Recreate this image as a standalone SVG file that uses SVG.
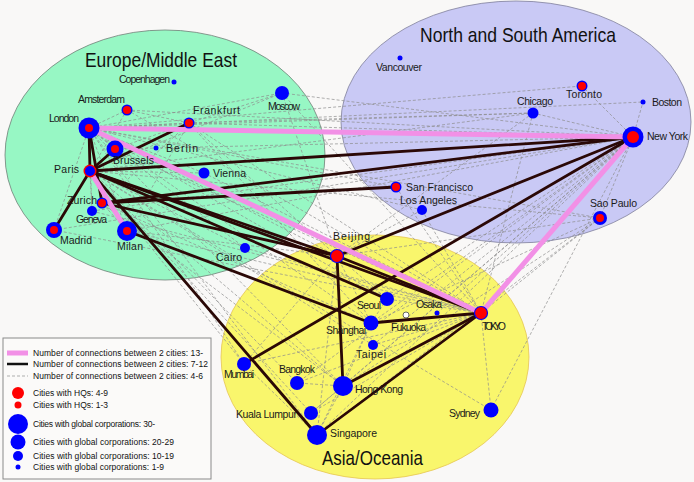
<svg xmlns="http://www.w3.org/2000/svg" width="694" height="482" viewBox="0 0 694 482">
<defs>
<style>
.bg{fill:#f9f8f7}
.dash{stroke:#8c8c8c;stroke-width:0.7;stroke-dasharray:3 2;fill:none}
.thick{stroke:#2a0806;stroke-width:2.8;fill:none;stroke-linecap:round}
.pink{stroke:#f290e6;stroke-width:5;fill:none;stroke-linecap:butt}
.b{fill:#0000ff}
.r{fill:#ff0000}
.lbl{font-family:"Liberation Sans",Arial,sans-serif;font-size:10.5px;fill:#1a1a1a}
.title{font-family:"Liberation Sans",Arial,sans-serif;font-size:21px;fill:#111;text-anchor:middle}
.leg{font-family:"Liberation Sans",Arial,sans-serif;font-size:8.5px;fill:#111}
</style>
</defs>
<rect class="bg" x="0" y="0" width="694" height="482"/>
<g id="regions">
<ellipse id="region-europe" cx="165" cy="155" rx="160" ry="125" fill="#97f7c4" stroke="#6e7f76" stroke-width="0.8"/>
<ellipse id="region-america" cx="516" cy="122" rx="175" ry="121" fill="#c9c9f5" stroke="#7f7f9a" stroke-width="0.8"/>
<ellipse id="region-asia" cx="375" cy="357" rx="154" ry="122" fill="#f9f66c" stroke="#e6c550" stroke-width="0.8"/>
<text class="title" x="161" y="67" textLength="152" lengthAdjust="spacingAndGlyphs">Europe/Middle East</text>
<text class="title" x="518" y="42" textLength="196" lengthAdjust="spacingAndGlyphs">North and South America</text>
<text class="title" x="372.5" y="465" textLength="101" lengthAdjust="spacingAndGlyphs">Asia/Oceania</text>
</g>
<g id="connectors">
<g id="dashed">
<line class="dash" x1="89" y1="128" x2="127" y2="110"/>
<line class="dash" x1="89" y1="128" x2="189" y2="123"/>
<line class="dash" x1="89" y1="128" x2="115" y2="149"/>
<line class="dash" x1="89" y1="128" x2="282" y2="93"/>
<line class="dash" x1="89" y1="128" x2="204" y2="173"/>
<line class="dash" x1="89" y1="128" x2="127" y2="231"/>
<line class="dash" x1="89" y1="128" x2="54" y2="230"/>
<line class="dash" x1="89" y1="128" x2="92" y2="211"/>
<line class="dash" x1="89" y1="128" x2="245" y2="248"/>
<line class="dash" x1="127" y1="110" x2="189" y2="123"/>
<line class="dash" x1="127" y1="110" x2="90" y2="171"/>
<line class="dash" x1="189" y1="123" x2="115" y2="149"/>
<line class="dash" x1="189" y1="123" x2="282" y2="93"/>
<line class="dash" x1="90" y1="171" x2="282" y2="93"/>
<line class="dash" x1="90" y1="171" x2="204" y2="173"/>
<line class="dash" x1="90" y1="171" x2="92" y2="211"/>
<line class="dash" x1="90" y1="171" x2="245" y2="248"/>
<line class="dash" x1="127" y1="231" x2="189" y2="123"/>
<line class="dash" x1="102" y1="203" x2="189" y2="123"/>
<line class="dash" x1="127" y1="231" x2="102" y2="203"/>
<line class="dash" x1="89" y1="128" x2="533" y2="113"/>
<line class="dash" x1="89" y1="128" x2="643" y2="102"/>
<line class="dash" x1="89" y1="128" x2="582" y2="86"/>
<line class="dash" x1="89" y1="128" x2="396" y2="187"/>
<line class="dash" x1="89" y1="128" x2="422" y2="210"/>
<line class="dash" x1="89" y1="128" x2="600" y2="218"/>
<line class="dash" x1="90" y1="171" x2="533" y2="113"/>
<line class="dash" x1="90" y1="171" x2="600" y2="218"/>
<line class="dash" x1="189" y1="123" x2="633" y2="137"/>
<line class="dash" x1="127" y1="110" x2="633" y2="137"/>
<line class="dash" x1="115" y1="149" x2="633" y2="137"/>
<line class="dash" x1="127" y1="231" x2="633" y2="137"/>
<line class="dash" x1="282" y1="93" x2="633" y2="137"/>
<line class="dash" x1="54" y1="230" x2="633" y2="137"/>
<line class="dash" x1="92" y1="211" x2="633" y2="137"/>
<line class="dash" x1="189" y1="123" x2="533" y2="113"/>
<line class="dash" x1="89" y1="128" x2="387" y2="299"/>
<line class="dash" x1="89" y1="128" x2="371" y2="323"/>
<line class="dash" x1="89" y1="128" x2="343" y2="386"/>
<line class="dash" x1="89" y1="128" x2="317" y2="435"/>
<line class="dash" x1="89" y1="128" x2="244" y2="364"/>
<line class="dash" x1="89" y1="128" x2="337" y2="256"/>
<line class="dash" x1="189" y1="123" x2="481" y2="313"/>
<line class="dash" x1="189" y1="123" x2="337" y2="256"/>
<line class="dash" x1="189" y1="123" x2="371" y2="323"/>
<line class="dash" x1="115" y1="149" x2="481" y2="313"/>
<line class="dash" x1="127" y1="110" x2="481" y2="313"/>
<line class="dash" x1="282" y1="93" x2="481" y2="313"/>
<line class="dash" x1="282" y1="93" x2="337" y2="256"/>
<line class="dash" x1="204" y1="173" x2="481" y2="313"/>
<line class="dash" x1="90" y1="171" x2="491" y2="410"/>
<line class="dash" x1="90" y1="171" x2="343" y2="386"/>
<line class="dash" x1="90" y1="171" x2="244" y2="364"/>
<line class="dash" x1="127" y1="231" x2="481" y2="313"/>
<line class="dash" x1="92" y1="211" x2="481" y2="313"/>
<line class="dash" x1="54" y1="230" x2="481" y2="313"/>
<line class="dash" x1="102" y1="203" x2="371" y2="323"/>
<line class="dash" x1="102" y1="203" x2="343" y2="386"/>
<line class="dash" x1="90" y1="171" x2="373" y2="345"/>
<line class="dash" x1="90" y1="171" x2="297" y2="383"/>
<line class="dash" x1="90" y1="171" x2="311" y2="413"/>
<line class="dash" x1="245" y1="248" x2="481" y2="313"/>
<line class="dash" x1="127" y1="231" x2="337" y2="256"/>
<line class="dash" x1="633" y1="137" x2="387" y2="299"/>
<line class="dash" x1="633" y1="137" x2="371" y2="323"/>
<line class="dash" x1="633" y1="137" x2="343" y2="386"/>
<line class="dash" x1="633" y1="137" x2="317" y2="435"/>
<line class="dash" x1="633" y1="137" x2="373" y2="345"/>
<line class="dash" x1="633" y1="137" x2="491" y2="410"/>
<line class="dash" x1="633" y1="137" x2="297" y2="383"/>
<line class="dash" x1="633" y1="137" x2="311" y2="413"/>
<line class="dash" x1="633" y1="137" x2="437" y2="313"/>
<line class="dash" x1="600" y1="218" x2="481" y2="313"/>
<line class="dash" x1="600" y1="218" x2="337" y2="256"/>
<line class="dash" x1="600" y1="218" x2="371" y2="323"/>
<line class="dash" x1="600" y1="218" x2="343" y2="386"/>
<line class="dash" x1="600" y1="218" x2="317" y2="435"/>
<line class="dash" x1="396" y1="187" x2="481" y2="313"/>
<line class="dash" x1="422" y1="210" x2="481" y2="313"/>
<line class="dash" x1="422" y1="210" x2="337" y2="256"/>
<line class="dash" x1="533" y1="113" x2="481" y2="313"/>
<line class="dash" x1="533" y1="113" x2="337" y2="256"/>
<line class="dash" x1="633" y1="137" x2="533" y2="113"/>
<line class="dash" x1="633" y1="137" x2="643" y2="102"/>
<line class="dash" x1="633" y1="137" x2="582" y2="86"/>
<line class="dash" x1="633" y1="137" x2="600" y2="218"/>
<line class="dash" x1="481" y1="313" x2="387" y2="299"/>
<line class="dash" x1="481" y1="313" x2="373" y2="345"/>
<line class="dash" x1="481" y1="313" x2="297" y2="383"/>
<line class="dash" x1="481" y1="313" x2="311" y2="413"/>
<line class="dash" x1="481" y1="313" x2="244" y2="364"/>
<line class="dash" x1="481" y1="313" x2="491" y2="410"/>
<line class="dash" x1="337" y1="256" x2="387" y2="299"/>
<line class="dash" x1="337" y1="256" x2="371" y2="323"/>
<line class="dash" x1="337" y1="256" x2="317" y2="435"/>
<line class="dash" x1="337" y1="256" x2="244" y2="364"/>
<line class="dash" x1="371" y1="323" x2="343" y2="386"/>
<line class="dash" x1="371" y1="323" x2="317" y2="435"/>
<line class="dash" x1="343" y1="386" x2="317" y2="435"/>
<line class="dash" x1="343" y1="386" x2="297" y2="383"/>
<line class="dash" x1="343" y1="386" x2="311" y2="413"/>
<line class="dash" x1="317" y1="435" x2="244" y2="364"/>
<line class="dash" x1="387" y1="299" x2="371" y2="323"/>
</g>
<g id="thick">
<line class="thick" x1="89" y1="128" x2="90" y2="171"/>
<line class="thick" x1="89" y1="128" x2="102" y2="203"/>
<line class="thick" x1="90" y1="171" x2="115" y2="149"/>
<line class="thick" x1="90" y1="171" x2="189" y2="123"/>
<line class="thick" x1="90" y1="171" x2="54" y2="230"/>
<line class="thick" x1="90" y1="171" x2="633" y2="137"/>
<line class="thick" x1="102" y1="203" x2="633" y2="137"/>
<line class="thick" x1="102" y1="203" x2="396" y2="187"/>
<line class="thick" x1="90" y1="171" x2="387" y2="299"/>
<line class="thick" x1="90" y1="171" x2="481" y2="313"/>
<line class="thick" x1="90" y1="171" x2="337" y2="256"/>
<line class="thick" x1="102" y1="203" x2="337" y2="256"/>
<line class="thick" x1="90" y1="171" x2="317" y2="435"/>
<line class="thick" x1="127" y1="231" x2="371" y2="323"/>
<line class="thick" x1="337" y1="256" x2="633" y2="137"/>
<line class="thick" x1="244" y1="364" x2="633" y2="137"/>
<line class="thick" x1="337" y1="256" x2="481" y2="313"/>
<line class="thick" x1="337" y1="256" x2="343" y2="386"/>
<line class="thick" x1="371" y1="323" x2="481" y2="313"/>
<line class="thick" x1="343" y1="386" x2="481" y2="313"/>
<line class="thick" x1="317" y1="435" x2="481" y2="313"/>
</g>
<g id="pink">
<line class="pink" x1="89" y1="128" x2="633" y2="137"/>
<line class="pink" x1="89" y1="128" x2="481" y2="313"/>
<line class="pink" x1="633" y1="137" x2="481" y2="313"/>
<line class="pink" x1="90" y1="171" x2="127" y2="231"/>
</g>
</g>
<g id="nodes">
<g id="london"><circle class="b" cx="89" cy="128" r="10.5"/><circle class="r" cx="89" cy="128" r="4"/><text class="lbl" x="49" y="122" textLength="30">London</text></g>
<g id="amsterdam"><circle class="b" cx="127" cy="110" r="5.5"/><circle class="r" cx="127" cy="110" r="4"/><text class="lbl" x="78" y="103" textLength="47">Amsterdam</text></g>
<g id="copenhagen"><circle class="b" cx="174" cy="82" r="2.5"/><text class="lbl" x="119" y="83" textLength="51">Copenhagen</text></g>
<g id="frankfurt"><circle class="b" cx="189" cy="123" r="5.5"/><circle class="r" cx="189" cy="123" r="4"/><text class="lbl" x="193" y="114" textLength="47">Frankfurt</text></g>
<g id="moscow"><circle class="b" cx="282" cy="93" r="7"/><text class="lbl" x="268" y="110" textLength="32">Moscow</text></g>
<g id="berlin"><circle class="b" cx="156" cy="148" r="2.5"/><text class="lbl" x="166" y="152" textLength="32">Berlin</text></g>
<g id="brussels"><circle class="b" cx="115" cy="149" r="8.5"/><circle class="r" cx="115" cy="149" r="4"/><text class="lbl" x="113" y="164" textLength="41">Brussels</text></g>
<g id="paris"><circle class="r" cx="90" cy="171" r="6.5"/><circle class="b" cx="90" cy="171" r="5"/><text class="lbl" x="54" y="173" textLength="25">Paris</text></g>
<g id="vienna"><circle class="b" cx="204" cy="173" r="5.5"/><text class="lbl" x="213" y="177" textLength="33">Vienna</text></g>
<g id="zurich"><circle class="b" cx="102" cy="203" r="5.5"/><circle class="r" cx="102" cy="203" r="4"/><text class="lbl" x="67" y="204" textLength="30">Zurich</text></g>
<g id="geneva"><circle class="b" cx="92" cy="211" r="5"/><text class="lbl" x="76" y="223" textLength="31">Geneva</text></g>
<g id="madrid"><circle class="b" cx="54" cy="230" r="8"/><circle class="r" cx="54" cy="230" r="4"/><text class="lbl" x="60" y="244" textLength="32">Madrid</text></g>
<g id="milan"><circle class="b" cx="127" cy="231" r="10"/><circle class="r" cx="127" cy="231" r="4"/><text class="lbl" x="117" y="250" textLength="26">Milan</text></g>
<g id="cairo"><circle class="b" cx="245" cy="248" r="5"/><text class="lbl" x="216" y="261" textLength="26">Cairo</text></g>
<g id="vancouver"><circle class="b" cx="400" cy="58" r="2.5"/><text class="lbl" x="376" y="71" textLength="46">Vancouver</text></g>
<g id="toronto"><circle class="b" cx="582" cy="86" r="5.5"/><circle class="r" cx="582" cy="86" r="4"/><text class="lbl" x="566" y="98" textLength="36">Toronto</text></g>
<g id="chicago"><circle class="b" cx="533" cy="113" r="5.5"/><text class="lbl" x="517" y="105" textLength="36">Chicago</text></g>
<g id="boston"><circle class="b" cx="643" cy="102" r="2.5"/><text class="lbl" x="652" y="106" textLength="30">Boston</text></g>
<g id="new-york"><circle class="b" cx="633" cy="137" r="10.5"/><circle class="r" cx="633" cy="137" r="6"/><text class="lbl" x="647" y="140" textLength="41">New York</text></g>
<g id="san-francisco"><circle class="b" cx="396" cy="187" r="5.5"/><circle class="r" cx="396" cy="187" r="4"/><text class="lbl" x="406" y="191" textLength="67">San Francisco</text></g>
<g id="los-angeles"><circle class="b" cx="422" cy="210" r="5"/><text class="lbl" x="400" y="204" textLength="57">Los Angeles</text></g>
<g id="sao-paulo"><circle class="b" cx="600" cy="218" r="7"/><circle class="r" cx="600" cy="218" r="4"/><text class="lbl" x="590" y="207" textLength="47">Sao Paulo</text></g>
<g id="beijing"><circle class="r" cx="337" cy="256" r="6.5" stroke="#0000ff" stroke-width="1.2"/><text class="lbl" x="333" y="240" textLength="37">Beijing</text></g>
<g id="tokyo"><circle class="r" cx="481" cy="313" r="6.5" stroke="#0000ff" stroke-width="1.2"/><text class="lbl" x="482" y="330" textLength="24">TOKYO</text></g>
<g id="seoul"><circle class="b" cx="387" cy="299" r="7"/><text class="lbl" x="357" y="309" textLength="24">Seoul</text></g>
<g id="osaka"><circle class="b" cx="437" cy="313" r="2.5"/><text class="lbl" x="416" y="308" textLength="26">Osaka</text></g>
<g id="fukuoka"><circle cx="406" cy="315" r="3" fill="#ffffff" stroke="#444" stroke-width="0.8"/><text class="lbl" x="391" y="331" textLength="35">Fukuoka</text></g>
<g id="shanghai"><circle class="b" cx="371" cy="323" r="7.5"/><text class="lbl" x="326" y="334" textLength="40">Shanghai</text></g>
<g id="taipei"><circle class="b" cx="373" cy="345" r="5"/><text class="lbl" x="356" y="358" textLength="30">Taipei</text></g>
<g id="mumbai"><circle class="b" cx="244" cy="364" r="7"/><text class="lbl" x="224" y="378" textLength="30">Mumbai</text></g>
<g id="bangkok"><circle class="b" cx="297" cy="383" r="7"/><text class="lbl" x="279" y="373" textLength="36">Bangkok</text></g>
<g id="hong-kong"><circle class="b" cx="343" cy="386" r="10"/><text class="lbl" x="355" y="393" textLength="48">Hong Kong</text></g>
<g id="kuala-lumpur"><circle class="b" cx="311" cy="413" r="7"/><text class="lbl" x="236" y="418" textLength="61">Kuala Lumpur</text></g>
<g id="singapore"><circle class="b" cx="317" cy="435" r="10"/><text class="lbl" x="330" y="437" textLength="47">Singapore</text></g>
<g id="sydney"><circle class="b" cx="491" cy="410" r="7.5"/><text class="lbl" x="449" y="417" textLength="31">Sydney</text></g>
</g>
<g id="legend">
<rect x="3" y="338" width="208" height="141" fill="#fbfaf9" stroke="#8a8a8a" stroke-width="1"/>
<line x1="7" y1="353" x2="28" y2="353" stroke="#f290e6" stroke-width="5"/>
<text class="leg" x="33" y="356" textLength="170">Number of connections between 2 cities: 13-</text>
<line x1="7" y1="364" x2="28" y2="364" stroke="#111" stroke-width="2.5"/>
<text class="leg" x="33" y="367" textLength="175">Number of connections between 2 cities: 7-12</text>
<line class="dash" x1="7" y1="376" x2="28" y2="376"/>
<text class="leg" x="33" y="379" textLength="170">Number of connections between 2 cities: 4-6</text>
<circle class="r" cx="18" cy="393" r="6"/>
<text class="leg" x="33" y="396" textLength="75">Cities with HQs: 4-9</text>
<circle class="r" cx="18" cy="405" r="3.5"/>
<text class="leg" x="33" y="408" textLength="75">Cities with HQs: 1-3</text>
<circle class="b" cx="18" cy="424" r="10"/>
<text class="leg" x="33" y="427" textLength="122">Cities with global corporations: 30-</text>
<circle class="b" cx="18" cy="442" r="7.5"/>
<text class="leg" x="33" y="445" textLength="141">Cities with global corporations: 20-29</text>
<circle class="b" cx="18" cy="456" r="5"/>
<text class="leg" x="33" y="459" textLength="141">Cities with global corporations: 10-19</text>
<circle class="b" cx="18" cy="467" r="2.5"/>
<text class="leg" x="33" y="470" textLength="131">Cities with global corporations: 1-9</text>
</g>
</svg>
